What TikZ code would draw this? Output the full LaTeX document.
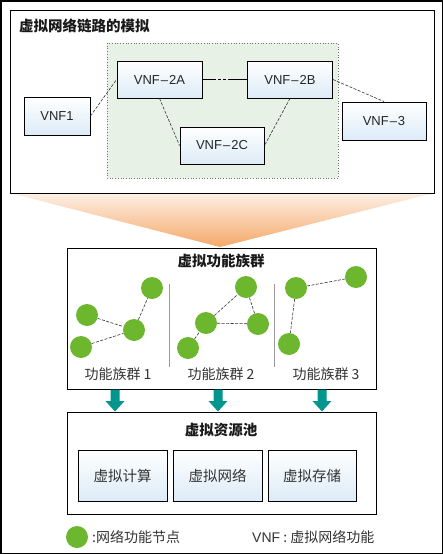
\documentclass[tikz,border=0pt]{standalone}
\usepackage{fontspec}
\setmainfont{Liberation Sans}
\newfontfamily\cjk{Noto Sans CJK SC}
\usetikzlibrary{calc}
\definecolor{nodegreen}{HTML}{6DB72F}
\definecolor{teal2}{HTML}{00968D}
\definecolor{boxblue}{HTML}{DCEBF7}
\definecolor{panelgreen}{HTML}{E8F1E6}
\definecolor{funtop}{HTML}{FDF0E6}
\definecolor{funbot}{HTML}{F5A868}
\definecolor{divgray}{HTML}{9A9A9A}
\tikzset{
  vnfbox/.style={draw=black, line width=0.9pt, top color=white, bottom color=boxblue,
    minimum width=85pt, minimum height=37pt, inner sep=0pt, font=\fontsize{13}{15}\selectfont, text=black!85},
  resbox/.style={draw=black, line width=0.9pt, top color=white, bottom color=boxblue,
    minimum width=89pt, minimum height=51pt, inner sep=0pt, font=\cjk\fontsize{14.5}{16}\selectfont, text=black!80},
  frame/.style={draw=black, line width=1pt},
  link/.style={draw=black!80, line width=0.6pt, dash pattern=on 3pt off 1.5pt},
  fn/.style={circle, fill=nodegreen, minimum size=22pt, inner sep=0pt},
  titletext/.style={font=\cjk\bfseries\fontsize{14.5}{16}\selectfont, inner sep=0pt, text=black!90},
  labeltext/.style={font=\cjk\fontsize{14}{16}\selectfont, text=black!80, inner sep=0pt},
  blockarrow/.style={fill=teal2, draw=none}
}
\begin{document}
\begin{tikzpicture}[x=1pt,y=-1pt]
\useasboundingbox (0,0) rectangle (443,554);
\fill[white] (0,0) rectangle (443,554);
\draw[black, line width=1.5pt] (0.75,0.75) rectangle (442.25,553.25);

% funnel
\shade[top color=funtop, bottom color=funbot] (10,193) -- (434,193) -- (220,247) -- cycle;

% top panel
\draw[frame, fill=white] (10,10) rectangle (434,193);
\node[titletext, anchor=west] (t1) at (19,26) {虚拟网络链路的模拟};
\draw[fill=panelgreen, draw=black!55, line width=0.7pt, dotted] (107,43) rectangle (338,178);

\node[vnfbox] (v2a) at (159.5,79.5) {VNF\kern1pt\textendash\kern1pt 2A};
\node[vnfbox] (v2b) at (290,79.5) {VNF\kern1pt\textendash\kern1pt 2B};
\node[vnfbox, minimum width=66pt, minimum height=38pt] (v1) at (57,116) {VNF1};
\node[vnfbox, minimum width=84pt, minimum height=38pt] (v3) at (384,121) {VNF\kern1pt\textendash\kern1pt 3};
\node[vnfbox, minimum width=84pt] (v2c) at (222,145.5) {VNF\kern1pt\textendash\kern1pt 2C};

\draw[link] (v1.east) -- (v2a.west);
\draw[draw=black, line width=0.6pt, dash pattern=on 14pt off 2pt on 3pt off 2pt on 3pt off 2pt on 30pt] (v2a.east) -- (v2b.west);
\draw[link] (v2a.south) -- (v2c.west);
\draw[link] (v2b.south) -- (v2c.east);
\draw[link] (v2b.east) -- (v3.north);

% middle panel
\draw[frame, fill=white] (67,248) rectangle (376,389);
\node[titletext] (t2) at (221,261) {虚拟功能族群};
\draw[divgray, line width=0.8pt] (169,284) -- (169,367);
\draw[divgray, line width=0.8pt] (274,284) -- (274,367);

% cluster 1
\node[fn] (a1) at (152,288) {};
\node[fn] (a2) at (87,315) {};
\node[fn] (a3) at (134,330) {};
\node[fn] (a4) at (81,347) {};
\draw[link] (a2) -- (a3);
\draw[link] (a4) -- (a3);
\draw[link] (a3) -- (a1);
% cluster 2
\node[fn] (b1) at (246,287) {};
\node[fn] (b2) at (206,323) {};
\node[fn] (b3) at (258,324) {};
\node[fn] (b4) at (188,348) {};
\draw[link] (b2) -- (b1);
\draw[link] (b1) -- (b3);
\draw[link] (b2) -- (b3);
\draw[link] (b4) -- (b2);
% cluster 3
\node[fn] (c1) at (296,288) {};
\node[fn] (c2) at (356,277) {};
\node[fn] (c3) at (289,344) {};
\draw[link] (c1) -- (c2);
\draw[link] (c1) -- (c3);

\node[labeltext] (l1) at (118,374) {功能族群 1};
\node[labeltext] (l2) at (221,374) {功能族群 2};
\node[labeltext] (l3) at (326,374) {功能族群 3};

% block arrows
\foreach \x in {115,218,322}{
  \fill[blockarrow] (\x-4.5,389.5) -- (\x+4.5,389.5) -- (\x+4.5,401) -- (\x+9.5,401) -- (\x,411.5) -- (\x-9.5,401) -- (\x-4.5,401) -- cycle;
}

% bottom panel
\draw[frame, fill=white] (67,412) rectangle (376,514);
\node[titletext] (t3) at (221,430) {虚拟资源池};
\node[resbox] (r1) at (122.5,475.5) {虚拟计算};
\node[resbox] (r2) at (217.5,475.5) {虚拟网络};
\node[resbox, minimum width=88pt] (r3) at (312,475.5) {虚拟存储};

% legend
\node[fn] (lg) at (77,537) {};
\node[labeltext, anchor=west] (lgt) at (92,537) {:网络功能节点};
\node[labeltext, anchor=west] (lgv) at (252,537) {{\fontspec{Liberation Sans}VNF} : 虚拟网络功能};
\end{tikzpicture}
\end{document}
